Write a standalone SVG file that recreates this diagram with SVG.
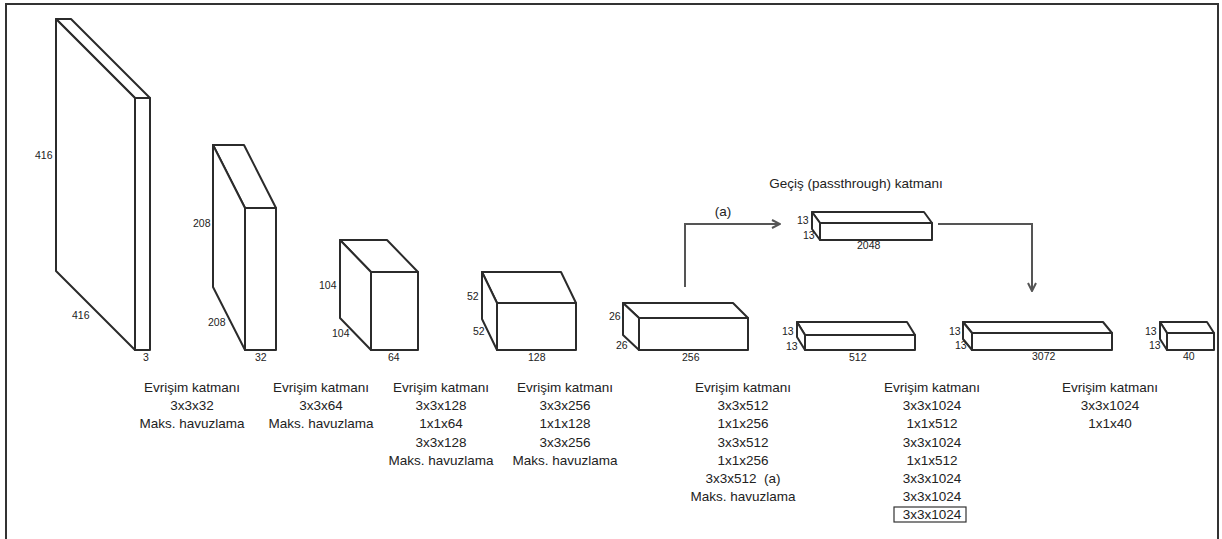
<svg xmlns="http://www.w3.org/2000/svg" width="1222" height="539" viewBox="0 0 1222 539">
<style>
.bx{fill:#fff;stroke:#2b2b2b;stroke-width:2;stroke-linejoin:round}
.dim{font-family:"Liberation Sans",Arial,sans-serif;font-size:10.5px;fill:#222}
.lbl{font-family:"Liberation Sans",Arial,sans-serif;font-size:13.5px;fill:#222;text-anchor:middle;white-space:pre}
.con{fill:none;stroke:#555;stroke-width:2}
</style>
<defs>
<marker id="ah" viewBox="0 0 10 10" refX="9" refY="5" markerWidth="10" markerHeight="10" markerUnits="userSpaceOnUse" orient="auto">
<path d="M1,1 L9,5 L1,9" fill="none" stroke="#555" stroke-width="2"/>
</marker>
</defs>
<rect x="0" y="0" width="1222" height="539" fill="#fff"/>
<path d="M6,539 V4 H1218 V539" fill="none" stroke="#333" stroke-width="2"/>

<g id="box1">
<path class="bx" d="M56,19 H71 L150,98 H135 Z"/>
<path class="bx" d="M56,19 L135,98 V350 L56,271 Z"/>
<rect class="bx" x="135" y="98" width="15" height="252"/>
<text class="dim" x="35" y="159">416</text>
<text class="dim" x="72" y="319">416</text>
<text class="dim" x="143" y="361">3</text>
</g>
<g id="box2">
<path class="bx" d="M213,145 H244 L276,208 H245 Z"/>
<path class="bx" d="M213,145 L245,208 V350 L213,287 Z"/>
<rect class="bx" x="245" y="208" width="31" height="142"/>
<text class="dim" x="193" y="227">208</text>
<text class="dim" x="208" y="326">208</text>
<text class="dim" x="255" y="361">32</text>
</g>
<g id="box3">
<path class="bx" d="M340,240 H387 L418,272 H371 Z"/>
<path class="bx" d="M340,240 L371,272 V350 L340,318 Z"/>
<rect class="bx" x="371" y="272" width="47" height="78"/>
<text class="dim" x="319" y="289">104</text>
<text class="dim" x="332" y="337">104</text>
<text class="dim" x="388" y="361">64</text>
</g>
<g id="box4">
<path class="bx" d="M482,272 H561 L576,303 H497 Z"/>
<path class="bx" d="M482,272 L497,303 V350 L482,319 Z"/>
<rect class="bx" x="497" y="303" width="79" height="47"/>
<text class="dim" x="467" y="300">52</text>
<text class="dim" x="473" y="335">52</text>
<text class="dim" x="528" y="361">128</text>
</g>
<g id="box5">
<path class="bx" d="M623,303 H733 L748,318 H639 Z"/>
<path class="bx" d="M623,303 L639,318 V350 L623,335 Z"/>
<rect class="bx" x="639" y="318" width="109" height="32"/>
<text class="dim" x="609" y="320">26</text>
<text class="dim" x="616" y="349">26</text>
<text class="dim" x="682" y="361">256</text>
</g>
<g id="box6">
<path class="bx" d="M797,322 H907 L915,335 H805 Z"/>
<path class="bx" d="M797,322 L805,335 V350 L797,337 Z"/>
<rect class="bx" x="805" y="335" width="110" height="15"/>
<text class="dim" x="782" y="335">13</text>
<text class="dim" x="786" y="350">13</text>
<text class="dim" x="849" y="361">512</text>
</g>
<g id="passthrough">
<path class="bx" d="M812,212 H924 L932,223 H820 Z"/>
<path class="bx" d="M812,212 L820,223 V240 L812,229 Z"/>
<rect class="bx" x="820" y="223" width="112" height="17"/>
<text class="dim" x="797" y="224">13</text>
<text class="dim" x="803" y="239">13</text>
<text class="dim" x="857" y="249">2048</text>
<text x="856" y="188" font-family="Liberation Sans, Arial, sans-serif" font-size="13.5" fill="#222" text-anchor="middle">Geçiş (passthrough) katmanı</text>
</g>
<g id="box7">
<path class="bx" d="M963,322 H1103 L1112,333 H972 Z"/>
<path class="bx" d="M963,322 L972,333 V350 L963,339 Z"/>
<rect class="bx" x="972" y="333" width="140" height="17"/>
<text class="dim" x="949" y="335">13</text>
<text class="dim" x="955" y="349">13</text>
<text class="dim" x="1032" y="360">3072</text>
</g>
<g id="box8">
<path class="bx" d="M1160,322 H1207 L1214,333 H1167 Z"/>
<path class="bx" d="M1160,322 L1167,333 V350 L1160,339 Z"/>
<rect class="bx" x="1167" y="333" width="47" height="17"/>
<text class="dim" x="1145" y="335">13</text>
<text class="dim" x="1149" y="349">13</text>
<text class="dim" x="1183" y="360">40</text>
</g>

<g id="connectors">
<path class="con" d="M685,287 V224 H780" marker-end="url(#ah)"/>
<text x="723" y="216" font-family="Liberation Sans, Arial, sans-serif" font-size="13.5" fill="#222" text-anchor="middle">(a)</text>
<path class="con" d="M938,224 H1032 V291" marker-end="url(#ah)"/>
</g>

<g id="labels">
<text class="lbl" x="192" y="392"><tspan x="192">Evrişim katmanı</tspan><tspan x="192" dy="18.2">3x3x32</tspan><tspan x="192" dy="18.2">Maks. havuzlama</tspan></text>
<text class="lbl" x="321" y="392"><tspan x="321">Evrişim katmanı</tspan><tspan x="321" dy="18.2">3x3x64</tspan><tspan x="321" dy="18.2">Maks. havuzlama</tspan></text>
<text class="lbl" x="441" y="392"><tspan x="441">Evrişim katmanı</tspan><tspan x="441" dy="18.2">3x3x128</tspan><tspan x="441" dy="18.2">1x1x64</tspan><tspan x="441" dy="18.2">3x3x128</tspan><tspan x="441" dy="18.2">Maks. havuzlama</tspan></text>
<text class="lbl" x="565" y="392"><tspan x="565">Evrişim katmanı</tspan><tspan x="565" dy="18.2">3x3x256</tspan><tspan x="565" dy="18.2">1x1x128</tspan><tspan x="565" dy="18.2">3x3x256</tspan><tspan x="565" dy="18.2">Maks. havuzlama</tspan></text>
<text class="lbl" x="743" y="392"><tspan x="743">Evrişim katmanı</tspan><tspan x="743" dy="18.2">3x3x512</tspan><tspan x="743" dy="18.2">1x1x256</tspan><tspan x="743" dy="18.2">3x3x512</tspan><tspan x="743" dy="18.2">1x1x256</tspan><tspan x="743" dy="18.2">3x3x512  (a)</tspan><tspan x="743" dy="18.2">Maks. havuzlama</tspan></text>
<text class="lbl" x="932" y="392"><tspan x="932">Evrişim katmanı</tspan><tspan x="932" dy="18.2">3x3x1024</tspan><tspan x="932" dy="18.2">1x1x512</tspan><tspan x="932" dy="18.2">3x3x1024</tspan><tspan x="932" dy="18.2">1x1x512</tspan><tspan x="932" dy="18.2">3x3x1024</tspan><tspan x="932" dy="18.2">3x3x1024</tspan><tspan x="932" dy="18.2">3x3x1024</tspan></text>
<rect x="894" y="507" width="72" height="15" fill="none" stroke="#333" stroke-width="1.2"/>
<text class="lbl" x="1110" y="392"><tspan x="1110">Evrişim katmanı</tspan><tspan x="1110" dy="18.2">3x3x1024</tspan><tspan x="1110" dy="18.2">1x1x40</tspan></text>
</g>
</svg>
